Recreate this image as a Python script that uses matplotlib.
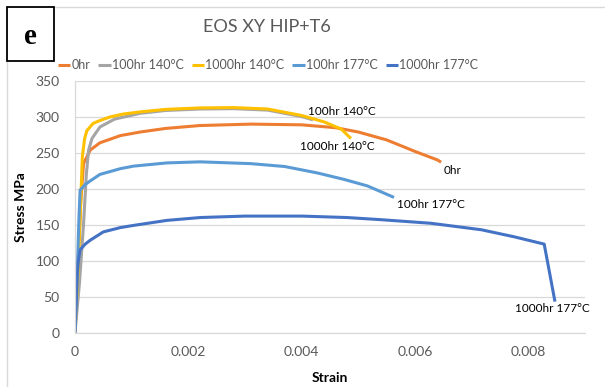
import matplotlib
matplotlib.use("Agg")
import matplotlib.pyplot as plt
from matplotlib.patches import Rectangle

plt.rcParams['font.family'] = ['Lato', 'DejaVu Sans']

W, H = 605, 387

# Series data: strain (mm/mm) and stress (MPa)
strain_0hr = [0, 0.00005, 0.0001, 0.00015, 0.00027, 0.00044, 0.0008, 0.00115, 0.0016,
              0.0022, 0.0031, 0.004, 0.0046, 0.005, 0.0055, 0.006, 0.0064, 0.00646]
stress_0hr = [0, 90, 180, 235, 254, 264, 274, 279, 284, 288, 290, 289, 285, 279, 268, 252, 240, 237]

strain_100_140 = [0, 0.00008, 0.00015, 0.0002, 0.00024, 0.0003, 0.00044, 0.0007, 0.00115,
                  0.0016, 0.0022, 0.0028, 0.0034, 0.004, 0.0042]
stress_100_140 = [0, 70, 150, 220, 254, 270, 286, 297, 305, 309, 311, 311.5, 309.5, 300.5, 296]

strain_1000_140 = [0, 0.00005, 0.0001, 0.00013, 0.00017, 0.00021, 0.00032, 0.00044, 0.00062,
                   0.00085, 0.00115, 0.0016, 0.0022, 0.0028, 0.0034, 0.004, 0.0044, 0.0047, 0.00487]
stress_1000_140 = [0, 80, 180, 245, 270, 281, 291, 295, 300, 304, 307, 310.5, 312.5, 313, 311,
                   302, 293, 283, 270]

strain_100_177 = [0, 0.00003, 0.00007, 0.00009, 0.00018, 0.00027, 0.00044, 0.0008, 0.00103,
                  0.00162, 0.00221, 0.0031, 0.0037, 0.00428, 0.00475, 0.00516, 0.00563]
stress_100_177 = [0, 60, 160, 198, 206, 211, 220, 228, 231.5, 236, 237.5, 235, 231, 222, 213, 204, 188]

strain_1000_177 = [0, 0.00002, 0.00004, 0.00006, 0.00009, 0.00018, 0.00027, 0.0005, 0.0008,
                   0.00103, 0.00162, 0.00221, 0.003, 0.004, 0.0048, 0.0054, 0.00628, 0.00717,
                   0.00776, 0.00828, 0.00847]
stress_1000_177 = [0, 40, 80, 100, 115, 123, 128.5, 140, 146, 149, 156, 160, 162, 162, 160, 157,
                   152, 143, 133, 123, 43]

series_names = ["0hr", "100hr 140°C", "1000hr 140°C", "100hr 177°C", "1000hr 177°C"]
series_colors = ["#ED7D31", "#A5A5A5", "#FFC000", "#5B9BD5", "#4472C4"]

x_ticks = [0, 0.002, 0.004, 0.006, 0.008]
x_tick_labels = ["0", "0.002", "0.004", "0.006", "0.008"]
y_ticks = [0, 50, 100, 150, 200, 250, 300, 350]

fig = plt.figure(figsize=(W / 100, H / 100), dpi=100)
fig.patch.set_facecolor("white")

def fx(px):
    return px / W

def fy(py):
    return 1 - py / H

# chart-area border
fig.patches.append(Rectangle((fx(7), fy(H + 10)), 1.2, fy(7) - fy(H + 10),
                             transform=fig.transFigure, fill=False,
                             edgecolor="#D9D9D9", lw=1.0, zorder=0))

ax = fig.add_axes([fx(75), fy(332.5), fx(585) - fx(75), fy(81) - fy(332.5)])

data = [(strain_0hr, stress_0hr), (strain_100_140, stress_100_140),
        (strain_1000_140, stress_1000_140), (strain_100_177, stress_100_177),
        (strain_1000_177, stress_1000_177)]
handles = []
for (xs, ys), name, c in zip(data, series_names, series_colors):
    h, = ax.plot(xs, ys, color=c, lw=2.2, solid_capstyle="butt", solid_joinstyle="round", label=name)
    handles.append(h)

ax.set_xlim(0, 0.009)
ax.set_ylim(0, 350)
ax.set_xticks(x_ticks)
ax.set_xticklabels(x_tick_labels)
ax.set_yticks(y_ticks)
ax.tick_params(length=0, labelsize=10, labelcolor="#595959")
ax.tick_params(axis="y", pad=11)
ax.tick_params(axis="x", pad=10)
ax.grid(axis="y", color="#D9D9D9", lw=0.9)
ax.set_axisbelow(True)
for s in ["top", "right"]:
    ax.spines[s].set_visible(False)
ax.spines["left"].set_color("#D9D9D9")
ax.spines["bottom"].set_color("#D9D9D9")
ax.spines["left"].set_linewidth(0.9)
ax.spines["bottom"].set_linewidth(0.9)

ax.set_xlabel("Strain", fontsize=10, fontweight="bold")
ax.set_ylabel("Stress MPa", fontsize=10, fontweight="bold")
ax.xaxis.set_label_coords((330 - 75) / 510, -(372 - 332.5) / 251.5)
ax.yaxis.set_label_coords(-(75 - 27) / 510, (332.5 - 207) / 251.5)

# end-of-curve series labels (offsets in points)
label_specs = [
    (0, (2, -6), "left"),
    (1, (21, 6), "center"),
    (2, (-10, -6), "center"),
    (3, (2, -5), "left"),
    (4, (-2, -5), "center"),
]
for idx, (dx, dy), ha in label_specs:
    xs, ys = data[idx]
    ax.annotate(series_names[idx], (xs[-1], ys[-1]), xytext=(dx, dy),
                textcoords="offset points", ha=ha, va="center", fontsize=8.5, color="#000000")

fig.text(fx(267), fy(27), "EOS XY HIP+T6", ha="center", va="center", fontsize=13, color="#595959")

fig.legend(handles=handles, labels=series_names, loc="center",
           bbox_to_anchor=(fx(268), fy(65)), ncol=5, frameon=False, fontsize=9,
           handlelength=1.0, handletextpad=0.08, columnspacing=0.65,
           labelcolor="#595959")

# panel letter box
fig.patches.append(Rectangle((fx(7), fy(61)), fx(54) - fx(7), fy(7) - fy(61),
                             transform=fig.transFigure, facecolor="white",
                             edgecolor="black", lw=1.3, zorder=5))
fig.text(fx(30.5), fy(36), "e", ha="center", va="center", fontsize=21, fontweight="bold",
         family="Liberation Serif", zorder=6)

fig.savefig("out.png", dpi=100)
